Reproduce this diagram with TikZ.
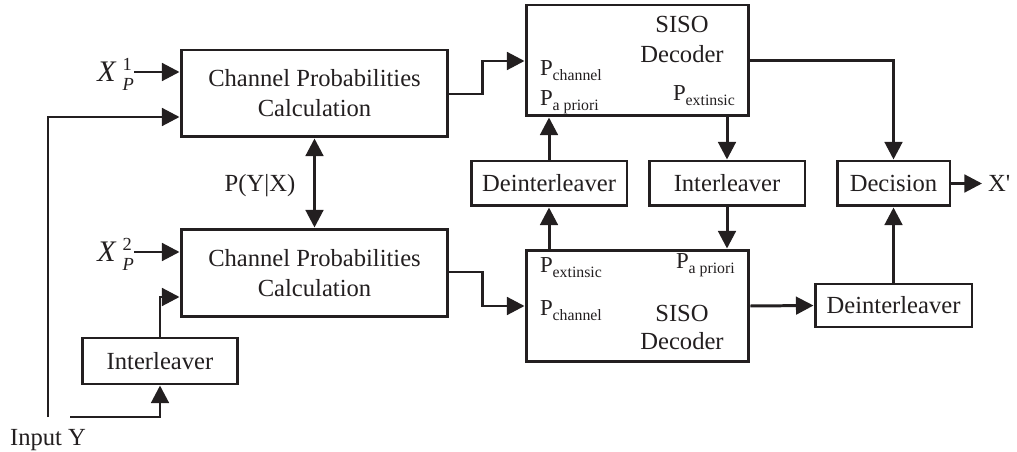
\documentclass[tikz,border=0pt]{standalone}
\usepackage{fontspec}
\setmainfont{Liberation Serif}
\usetikzlibrary{arrows.meta}
\definecolor{ink}{RGB}{35,31,32}
% probability label with a lowered subscript
\newcommand{\probsub}[1]{{\fontsize{13}{15}\selectfont P}\raisebox{-2.5pt}{\fontsize{9}{10}\selectfont #1}}
% parity symbol X with stacked super- and subscript
\newcommand{\paritysym}[1]{{\fontsize{17}{17}\selectfont\textit{X}}\kern3.5pt\rlap{\raisebox{6.5pt}{\fontsize{10.5}{10.5}\selectfont #1}}\raisebox{-5pt}{\fontsize{10.5}{10.5}\selectfont\itshape P}}
\begin{document}
\begin{tikzpicture}[x=0.02cm,y=-0.02cm,
  font=\fontsize{14}{17}\selectfont,
  box/.style={draw=ink, line width=1.7pt, fill=white, inner sep=0pt, align=center, text=ink},
  lbl/.style={inner sep=0pt, outer sep=0pt, text=ink},
  arr/.style={draw=ink, line width=1.7pt, -{Triangle[length=10pt,width=10pt]}},
  darr/.style={draw=ink, line width=1.7pt, {Triangle[length=10pt,width=10pt]}-{Triangle[length=10pt,width=10pt]}}]
\useasboundingbox[fill=white] (0,0) rectangle (1017,452);

% blocks
\node[box, minimum width=5.34cm, minimum height=1.74cm] (cpc1) at (314.5,93.5) {Channel Probabilities\\Calculation};
\node[box, minimum width=5.34cm, minimum height=1.76cm] (cpc2) at (314.5,273) {Channel Probabilities\\Calculation};
\node[box, minimum width=3.12cm, minimum height=0.92cm] (ilvA) at (160,361) {Interleaver};
\node[box, minimum width=4.46cm, minimum height=2.22cm] (sisoA) at (637.5,60.5) {};
\node[box, minimum width=4.46cm, minimum height=2.24cm] (sisoB) at (637.5,306) {};
\node[box, minimum width=3.12cm, minimum height=0.9cm] (deilA) at (549,183.5) {Deinterleaver};
\node[box, minimum width=3.12cm, minimum height=0.9cm] (ilvB) at (727,183.5) {Interleaver};
\node[box, minimum width=2.26cm, minimum height=0.9cm] (dec) at (893.5,183.5) {Decision};
\node[box, minimum width=3.14cm, minimum height=0.86cm] (deilB) at (893.5,305.5) {Deinterleaver};

% texts inside the upper SISO decoder
\node[lbl, anchor=base] (sisoAt1) at (682,33) {SISO};
\node[lbl, anchor=base] (sisoAt2) at (682,63) {Decoder};
\node[lbl, anchor=base west] (pchA) at (540,76) {\probsub{channel}};
\node[lbl, anchor=base west] (papA) at (540,106) {\probsub{a priori}};
\node[lbl, anchor=base west] (pexA) at (673,101) {\probsub{extinsic}};

% texts inside the lower SISO decoder
\node[lbl, anchor=base] (sisoBt1) at (682,321) {SISO};
\node[lbl, anchor=base] (sisoBt2) at (682,350) {Decoder};
\node[lbl, anchor=base west] (pexB) at (540,273) {\probsub{extinsic}};
\node[lbl, anchor=base west] (papB) at (676,269) {\probsub{a priori}};
\node[lbl, anchor=base west] (pchB) at (540,316) {\probsub{channel}};

% outside labels
\node[lbl, anchor=base east] (xp1) at (134,82) {\paritysym{1}};
\node[lbl, anchor=base east] (xp2) at (134,262) {\paritysym{2}};
\node[lbl, anchor=base] (pyx) at (260,192) {P(Y|X)};
\node[lbl] (inY) at (48,440) {Input Y};
\node[lbl, anchor=west] (xout) at (988,183.5) {X\textquotesingle};
\coordinate (yv) at (48,417);
\coordinate (yh) at (70,417);

% connectors
\draw[arr] (xp1.east |- 0,72) -- (cpc1.west |- 0,72);
\draw[arr] (yv) |- (cpc1.west |- 0,117);
\draw[arr] (xp2.east |- 0,252) -- (cpc2.west |- 0,252);
\draw[arr] (yh) -| (ilvA.south);
\draw[arr] (ilvA.north) |- (cpc2.west |- 0,297);
\draw[darr] (cpc1) -- (cpc2);
\draw[arr] (cpc1.east |- 0,94) -- (482,94) |- (sisoA.west |- 0,61);
\draw[arr] (cpc2.east |- 0,272) -- (482,272) |- (sisoB.west |- 0,306);
\draw[arr] (deilA.north) -- (sisoA.south -| deilA.north);
\draw[arr] (sisoB.north -| deilA.south) -- (deilA.south);
\draw[arr] (sisoA.south -| ilvB.north) -- (ilvB.north);
\draw[arr] (ilvB.south) -- (sisoB.north -| ilvB.south);
\draw[arr] (sisoA.east) -| (dec.north);
\draw[arr] (deilB.north) -- (dec.south);
\draw[arr] (sisoB.east) -- (deilB.west);
\draw[arr, shorten >=0.12cm] (dec.east) -- (xout.west);
\end{tikzpicture}
\end{document}
